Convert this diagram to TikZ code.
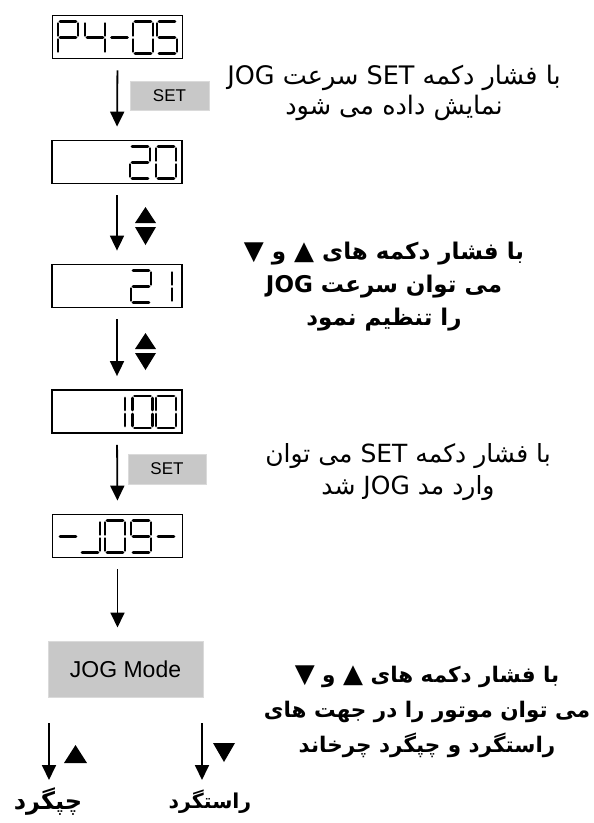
\documentclass[tikz,border=0pt]{standalone}
\usepackage{fontspec}
\setmainfont{Liberation Sans}
\newfontfamily\fa[Script=Arabic]{DejaVu Sans}
\TeXXeTstate=1
\usetikzlibrary{arrows.meta}
\definecolor{btnfill}{RGB}{200,200,200}
\definecolor{btnline}{RGB}{218,218,218}
\newcommand\sA{\draw[seg] (-8,0) -- (8,0);}
\newcommand\sB{\draw[seg] (10,2) -- (10,14);}
\newcommand\sC{\draw[seg] (10,18) -- (10,30);}
\newcommand\sD{\draw[seg] (-8,32) -- (8,32);}
\newcommand\sE{\draw[seg] (-10,18) -- (-10,30);}
\newcommand\sF{\draw[seg] (-10,2) -- (-10,14);}
\newcommand\sG{\draw[seg] (-8,16) -- (8,16);}
\newcommand\lcdchar[3]{\begin{scope}[shift={(#1,#2)}]#3\end{scope}}
\newcommand\triup{{\fontsize{26}{26}\selectfont ▲}}
\newcommand\tridn{{\fontsize{26}{26}\selectfont ▼}}
\begin{document}
\begin{tikzpicture}[x=1pt,y=-1pt,
  seg/.style={line width=2.9pt,line cap=round},
  lcdbox/.style={draw,line width=1.8pt,minimum width=130pt,minimum height=43pt,inner sep=0pt},
  btn/.style={fill=btnfill,draw=btnline,line width=1pt,inner sep=0pt,font=\fontsize{17}{20}\selectfont},
  arr/.style={line width=1.8pt,-{Triangle[width=14pt,length=15pt]}},
  link/.style={arr,shorten <=11pt,shorten >=13pt},
  note/.style={align=center,inner sep=0pt},
  tri/.style={fill=black}]
\useasboundingbox (0,0) rectangle (594,823);
% displays
\node[lcdbox] (d1) at (117.5,37) {};
\node[lcdbox] (d2) at (117,162) {};
\node[lcdbox] (d3) at (117,286) {};
\node[lcdbox] (d4) at (117,411.5) {};
\node[lcdbox] (d5) at (117.5,536) {};
% P4-05
\lcdchar{68}{21.5}{\sA\sB\sE\sF\sG}
\lcdchar{95}{21.5}{\sB\sC\sF\sG}
\lcdchar{119.5}{21.5}{\sG}
\lcdchar{143}{21.5}{\sA\sB\sC\sD\sE\sF}
\lcdchar{167}{21.5}{\sA\sC\sD\sF\sG}
% 20
\lcdchar{140}{146.5}{\sA\sB\sD\sE\sG}
\lcdchar{166}{146.5}{\sA\sB\sC\sD\sE\sF}
% 21
\lcdchar{141}{270.5}{\sA\sB\sD\sE\sG}
\lcdchar{162}{270.5}{\sB\sC}
% 100
\lcdchar{115}{396}{\sB\sC}
\lcdchar{142.5}{396}{\sA\sB\sC\sD\sE\sF}
\lcdchar{166}{396}{\sA\sB\sC\sD\sE\sF}
% -J09-
\lcdchar{68}{520.5}{\sG}
\lcdchar{90}{520.5}{\sB\sC\sD}
\lcdchar{115}{520.5}{\sA\sB\sC\sD\sE\sF}
\lcdchar{141}{520.5}{\sA\sB\sC\sD\sF\sG}
\lcdchar{166}{520.5}{\sG}
% buttons
\node[btn,minimum width=79pt,minimum height=29pt] (set1) at (169.5,95.5) {SET};
\node[btn,minimum width=78pt,minimum height=30pt] (set2) at (167,469) {SET};
\node[btn,minimum width=155pt,minimum height=56pt,font=\fontsize{23}{26}\selectfont] (jog) at (125.5,669) {JOG Mode};
% arrows
\draw[link] (d1.south) -- (d2.north);
\draw[link] (d2.south) -- (d3.north);
\draw[link] (d3.south) -- (d4.north);
\draw[link] (d4.south) -- (d5.north);
\draw[link] (d5.south) -- (d5.south |- jog.north);
% up/down symbols
\fill[tri] (135,223) -- (145.5,207) -- (156,223) -- cycle;
\fill[tri] (135,227) -- (156,227) -- (145.5,245) -- cycle;
\fill[tri] (135,349) -- (145.5,333) -- (156,349) -- cycle;
\fill[tri] (135,353) -- (156,353) -- (145.5,370) -- cycle;
% bottom branch
\coordinate (lt) at (49,723);
\coordinate (lb) at (49,780);
\coordinate (rt) at (202,723);
\coordinate (rb) at (202,780);
\draw[arr] (lt) -- (lb);
\draw[arr] (rt) -- (rb);
\fill[tri] (64,763) -- (75.5,745) -- (87,763) -- cycle;
\fill[tri] (213,743) -- (235,743) -- (224,762) -- cycle;
\node[note,font=\fa\bfseries\fontsize{24}{26}\selectfont] (ccw) at (48,802) {\beginR چپگرد\endR};
\node[note,font=\fa\bfseries\fontsize{20.5}{26}\selectfont] (cw) at (210,802) {\beginR راستگرد\endR};
% notes
\node[note,font=\fa\fontsize{25.5}{30}\selectfont] (t1) at (394,93) {\beginR با فشار دکمه \beginL SET\endL{} سرعت \beginL JOG\endL\endR\\\beginR نمایش داده می شود\endR};
\node[note,font=\fa\bfseries\fontsize{23}{33}\selectfont] (t2) at (384,287) {\beginR با فشار دکمه های \triup{} و \tridn\endR\\\beginR می توان سرعت \beginL JOG\endL\endR\\\beginR را تنظیم نمود\endR};
\node[note,font=\fa\fontsize{25}{32}\selectfont] (t3) at (408,472) {\beginR با فشار دکمه \beginL SET\endL{} می توان\endR\\\beginR وارد مد \beginL JOG\endL{} شد\endR};
\node[note,font=\fa\bfseries\fontsize{21.5}{35}\selectfont] (t4) at (427,712) {\beginR با فشار دکمه های \triup{} و \tridn\endR\\\beginR می توان موتور را در جهت های\endR\\\beginR راستگرد و چپگرد چرخاند\endR};
\end{tikzpicture}
\end{document}
